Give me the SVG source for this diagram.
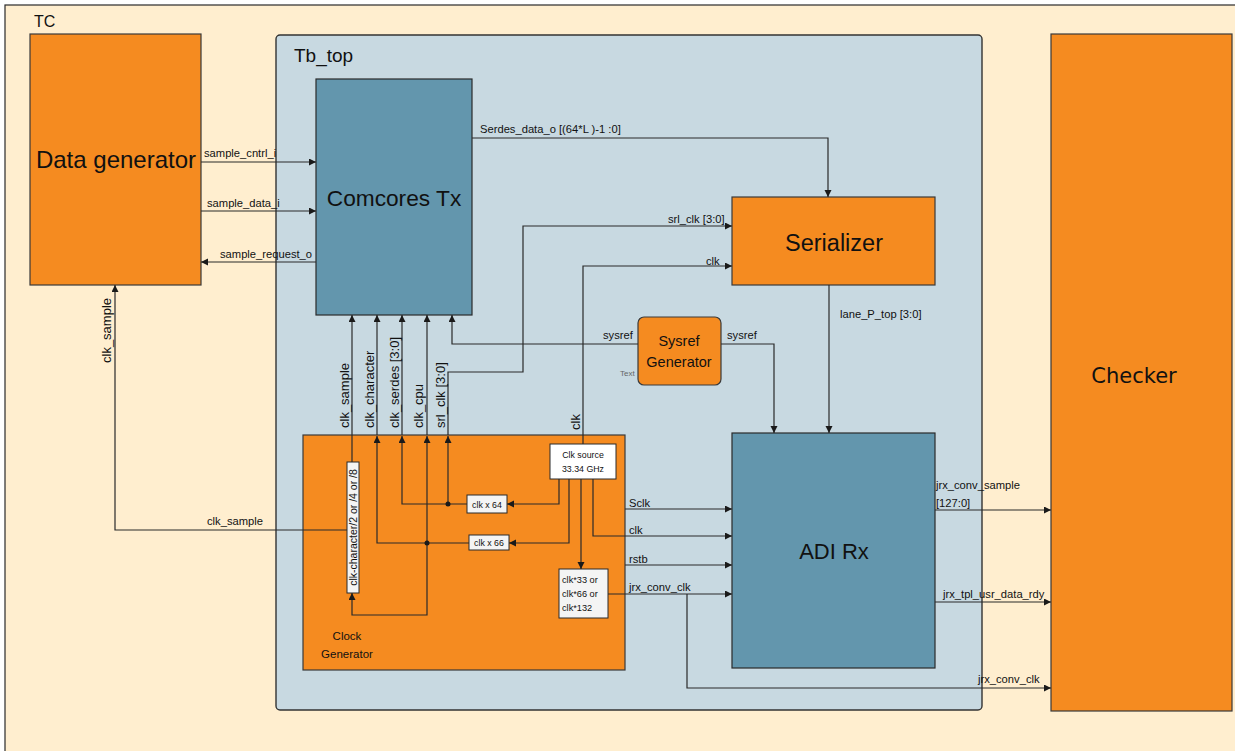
<svg xmlns="http://www.w3.org/2000/svg" width="1235" height="751" viewBox="0 0 1235 751">
<style>
.t{font-family:"Liberation Sans",Arial,sans-serif;fill:#111}
.s{font-size:11.2px}
.v{font-size:13px}
.b{font-size:8.8px}
.ln{fill:none;stroke:#2a2a2a;stroke-width:1.2}
.or{fill:#F58B20;stroke:#3a3a3a;stroke-width:1.2}
.bl{fill:#6396AD;stroke:#2a2a2a;stroke-width:1.2}
.wb{fill:#F4F4F4;stroke:#2a2a2a;stroke-width:1}
</style>
<defs>
<marker id="ar" markerUnits="userSpaceOnUse" markerWidth="8" markerHeight="8" refX="7" refY="3.5" orient="auto">
<path d="M0,0 L7,3.5 L0,7 z" fill="#1a1a1a"/>
</marker>
</defs>
<g id="tc">
<rect x="5" y="5" width="1240" height="760" fill="#FFEECF" stroke="#2a2a2a" stroke-width="1.2"/>
<text class="t" x="34" y="27" font-size="16">TC</text>
</g>
<g id="tb_top">
<rect x="276" y="35" width="706" height="675" rx="4" fill="#C8D9E1" stroke="#333" stroke-width="1.4"/>
<text class="t" x="294" y="62" font-size="19">Tb_top</text>
</g>
<g id="data_generator">
<rect class="or" x="30" y="34" width="171" height="251"/>
<text class="t" x="116" y="168" font-size="24" text-anchor="middle">Data generator</text>
</g>
<g id="comcores_tx">
<rect class="bl" x="316" y="79" width="156" height="236"/>
<text class="t" x="394" y="206" font-size="22.7" text-anchor="middle">Comcores Tx</text>
</g>
<g id="serializer">
<rect class="or" x="732" y="197" width="203" height="88"/>
<text class="t" x="834" y="251" font-size="23.5" text-anchor="middle">Serializer</text>
</g>
<g id="sysref_generator">
<rect class="or" x="638" y="317" width="83" height="68" rx="6"/>
<text class="t" x="679" y="346" font-size="14.5" text-anchor="middle">Sysref</text>
<text class="t" x="679" y="367" font-size="14.5" text-anchor="middle">Generator</text>
<text x="620" y="376" font-family="Liberation Sans, Arial, sans-serif" font-size="8" fill="#666">Text</text>
</g>
<g id="adi_rx">
<rect class="bl" x="732" y="433" width="203" height="235"/>
<text class="t" x="834" y="559" font-size="22" text-anchor="middle">ADI Rx</text>
</g>
<g id="checker">
<rect class="or" x="1051" y="34" width="181" height="677"/>
<text x="1134" y="383" font-family="DejaVu Sans, Verdana, sans-serif" font-size="21" text-anchor="middle" fill="#111">Checker</text>
</g>
<g id="clock_generator">
<rect class="or" x="303" y="435" width="322" height="235"/>
<text class="t" x="347" y="640" font-size="11.5" text-anchor="middle">Clock</text>
<text class="t" x="347" y="658" font-size="11.5" text-anchor="middle">Generator</text>
</g>
<g id="clk_source">
<rect x="550" y="444" width="66" height="35" fill="#FFFFFF" stroke="#2a2a2a" stroke-width="1"/>
<text class="t b" x="583" y="458" text-anchor="middle">Clk source</text>
<text class="t b" x="583" y="472" text-anchor="middle">33.34 GHz</text>
</g>
<g id="clk_x64">
<rect class="wb" x="467" y="495" width="40" height="18"/>
<text class="t b" x="487" y="508" text-anchor="middle">clk x 64</text>
</g>
<g id="clk_x66">
<rect class="wb" x="469" y="535" width="40" height="15"/>
<text class="t b" x="489" y="546" text-anchor="middle">clk x 66</text>
</g>
<g id="clk_mult">
<rect class="wb" x="559" y="569" width="49" height="49"/>
<text class="t" x="562" y="583" font-size="9.2">clk*33 or</text>
<text class="t" x="562" y="597" font-size="9.2">clk*66 or</text>
<text class="t" x="562" y="611" font-size="9.2">clk*132</text>
</g>
<g id="clk_character_div">
<rect class="wb" x="347" y="462" width="12" height="131"/>
<text class="t" transform="translate(356.5,527.5) rotate(-90)" font-size="10.5" text-anchor="middle">clk-character/2 or /4 or /8</text>
</g>
<g id="connectors">
<path class="ln" marker-end="url(#ar)" d="M201,162 H316"/>
<path class="ln" marker-end="url(#ar)" d="M201,211 H316"/>
<path class="ln" marker-end="url(#ar)" d="M316,262 H201"/>
<path class="ln" marker-end="url(#ar)" stroke="#444" d="M472,138 H828 V197"/>
<path class="ln" marker-end="url(#ar)" d="M448,435 V372 H523 V226 H732"/>
<path class="ln" marker-end="url(#ar)" d="M583,444 V266 H732"/>
<path class="ln" marker-end="url(#ar)" d="M638,344 H452 V315"/>
<path class="ln" marker-end="url(#ar)" d="M721,344 H774 V433"/>
<path class="ln" marker-end="url(#ar)" d="M829,285 V433"/>
<path class="ln" marker-end="url(#ar)" d="M352,462 V315"/>
<path class="ln" marker-end="url(#ar)" d="M377,435 V315"/>
<path class="ln" marker-end="url(#ar)" d="M402,435 V315"/>
<path class="ln" marker-end="url(#ar)" d="M427,435 V315"/>
<path class="ln" marker-end="url(#ar)" d="M467,504 H402 V436"/>
<path class="ln" marker-end="url(#ar)" d="M448,504 V436"/>
<path class="ln" marker-end="url(#ar)" d="M469,543 H377 V436"/>
<path class="ln" marker-end="url(#ar)" d="M427,543 V436"/>
<path class="ln" marker-end="url(#ar)" d="M427,543 V615 H352 V593"/>
<path class="ln" marker-end="url(#ar)" d="M559,479 V504 H507"/>
<path class="ln" marker-end="url(#ar)" d="M569,479 V543 H509"/>
<path class="ln" marker-end="url(#ar)" d="M581,479 V569"/>
<path class="ln" marker-end="url(#ar)" d="M593,479 V536 H732"/>
<path class="ln" marker-end="url(#ar)" d="M625,509 H732"/>
<path class="ln" marker-end="url(#ar)" d="M625,565 H732"/>
<path class="ln" marker-end="url(#ar)" d="M608,594 H732"/>
<path class="ln" marker-end="url(#ar)" d="M687,594 V688 H1051"/>
<path class="ln" marker-end="url(#ar)" d="M347,530 H115 V285"/>
<path class="ln" marker-end="url(#ar)" d="M935,510 H1051"/>
<path class="ln" marker-end="url(#ar)" d="M935,602 H1051"/>
<circle cx="448" cy="504" r="2.5" fill="#1a1a1a"/>
<circle cx="427" cy="543" r="2.5" fill="#1a1a1a"/>
</g>
<g id="labels">
<text class="t s" x="204" y="157">sample_cntrl_i</text>
<text class="t s" x="207" y="207">sample_data_i</text>
<text class="t s" x="220" y="258">sample_request_o</text>
<text class="t s" x="480" y="133">Serdes_data_o [(64*L )-1 :0]</text>
<text class="t s" x="668" y="223">srl_clk [3:0]</text>
<text class="t s" x="706" y="265">clk</text>
<text class="t s" x="603" y="339">sysref</text>
<text class="t s" x="727" y="339">sysref</text>
<text class="t s" x="840" y="318">lane_P_top [3:0]</text>
<text class="t v" transform="translate(349,428) rotate(-90)">clk_sample</text>
<text class="t v" transform="translate(374,428) rotate(-90)">clk_character</text>
<text class="t v" transform="translate(399,428) rotate(-90)">clk_serdes [3:0]</text>
<text class="t v" transform="translate(423,428) rotate(-90)">clk_cpu</text>
<text class="t v" transform="translate(445,428) rotate(-90)">srl_clk [3:0]</text>
<text class="t v" transform="translate(580,430) rotate(-90)">clk</text>
<text class="t v" transform="translate(111,363) rotate(-90)">clk_sample</text>
<text class="t s" x="207" y="525">clk_sample</text>
<text class="t s" x="629" y="507">Sclk</text>
<text class="t s" x="629" y="534">clk</text>
<text class="t s" x="629" y="563">rstb</text>
<text class="t s" x="629" y="591">jrx_conv_clk</text>
<text class="t s" x="936" y="489">jrx_conv_sample</text>
<text class="t s" x="936" y="507">[127:0]</text>
<text class="t s" x="943" y="598">jrx_tpl_usr_data_rdy</text>
<text class="t s" x="978" y="683">jrx_conv_clk</text>
</g>
</svg>
